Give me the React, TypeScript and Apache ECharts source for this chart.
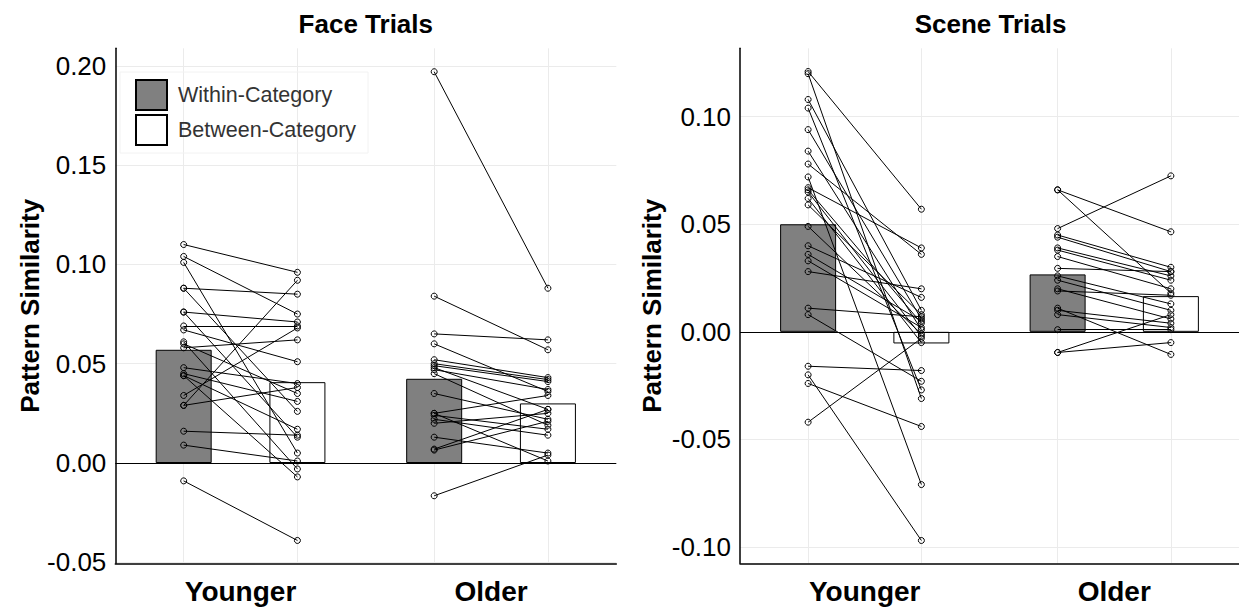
import React, { useEffect, useRef } from 'react';
import * as echarts from 'echarts';

const groups = ['Younger', 'Older'];
const conditions = ['Within-Category', 'Between-Category'];
const panelTitles = ['Face Trials', 'Scene Trials'];
const yAxisTitle = 'Pattern Similarity';
const faceTicks = [-0.05, 0, 0.05, 0.1, 0.15, 0.2];
const sceneTicks = [-0.1, -0.05, 0, 0.05, 0.1];

// bar heights (group means): [Younger, Older]
const faceBarWithin = [0.057, 0.0424];
const faceBarBetween = [0.0407, 0.03];
const sceneBarWithin = [0.05, 0.0267];
const sceneBarBetween = [-0.0054, 0.0166];

// individual participants (within -> between pairs)
const faceYoungWithin = [0.110, 0.104, 0.101, 0.088, 0.088, 0.076, 0.076, 0.069, 0.067, 0.061, 0.060, 0.058, 0.048, 0.045, 0.044, 0.044, 0.034, 0.029, 0.029, 0.016, 0.009, -0.009];
const faceYoungBetween = [0.096, 0.075, 0.005, 0.085, 0.026, 0.071, 0.013, 0.069, 0.051, -0.003, 0.035, 0.062, 0.040, 0.031, 0.017, -0.007, 0.068, 0.092, 0.038, 0.014, 0.001, -0.039];
const faceOldWithin = [0.197, 0.084, 0.065, 0.060, 0.052, 0.050, 0.049, 0.048, 0.047, 0.045, 0.035, 0.025, 0.024, 0.022, 0.020, 0.013, 0.007, 0.0065, -0.0165, 0.025];
const faceOldBetween = [0.088, 0.057, 0.062, 0.036, 0.043, 0.042, 0.041, 0.027, 0.037, 0.019, 0.022, 0.034, 0.017, 0.014, 0.025, 0.005, 0.027, 0.021, 0.004, 0.001];
const sceneYoungWithin = [0.121, 0.120, 0.108, 0.104, 0.094, 0.084, 0.078, 0.072, 0.067, 0.066, 0.065, 0.062, 0.059, 0.049, 0.040, 0.036, 0.033, 0.028, 0.011, 0.008, -0.016, -0.020, -0.024, -0.042];
const sceneYoungBetween = [0.057, -0.031, 0.010, -0.027, 0.006, 0.001, 0.036, -0.071, 0.039, 0.004, -0.002, -0.005, 0.008, -0.001, 0.016, 0.005, 0.002, 0.020, 0.007, -0.023, -0.018, -0.097, -0.044, -0.003];
const sceneOldWithin = [0.066, 0.066, 0.048, 0.045, 0.044, 0.039, 0.038, 0.035, 0.0295, 0.026, 0.024, 0.020, 0.019, 0.011, 0.010, 0.008, 0.001, -0.0096, -0.0096];
const sceneOldBetween = [0.0465, 0.018, 0.0725, 0.030, 0.028, 0.026, 0.024, 0.020, 0.028, 0.013, 0.010, 0.006, 0.017, -0.0105, 0.004, 0.002, 0.001, -0.005, 0.008];

const FONT = '"Liberation Sans", Arial, Helvetica, sans-serif';
const DODGE = 0.227;

type Panel = {
  barW: number[];
  barB: number[];
  pairs: [number[], number[]][];
  ticks: number[];
  min: number;
  max: number;
  left: number;
  nameGap: number;
};

const panels: Panel[] = [
  {
    barW: faceBarWithin, barB: faceBarBetween,
    pairs: [[faceYoungWithin, faceYoungBetween], [faceOldWithin, faceOldBetween]],
    ticks: faceTicks, min: -0.0505, max: 0.2088, left: 115.3, nameGap: 71,
  },
  {
    barW: sceneBarWithin, barB: sceneBarBetween,
    pairs: [[sceneYoungWithin, sceneYoungBetween], [sceneOldWithin, sceneOldBetween]],
    ticks: sceneTicks, min: -0.1076, max: 0.1318, left: 740, nameGap: 75,
  },
];

function buildOption() {
  const grid: any[] = [];
  const xAxis: any[] = [];
  const yAxis: any[] = [];
  const series: any[] = [];
  const title: any[] = [];
  const gridlineX = [1 - DODGE, 1 + DODGE, 2 - DODGE, 2 + DODGE];

  panels.forEach((p, i) => {
    grid.push({ left: p.left, top: 48.3, width: 501, height: 515, containLabel: false });
    title.push({
      text: panelTitles[i], left: p.left + 250.5, top: 11, textAlign: 'center', padding: 0,
      textStyle: { fontFamily: FONT, fontSize: 26, fontWeight: 'bold', color: '#000' },
    });
    xAxis.push({
      type: 'value', gridIndex: i, min: 0.5, max: 2.5,
      axisLine: { show: true, onZero: false, lineStyle: { color: '#000', width: 1.5 } },
      axisTick: { show: false, customValues: gridlineX },
      axisLabel: { show: false },
      splitLine: { show: true, lineStyle: { color: '#ebebeb', width: 1 } },
    });
    xAxis.push({
      type: 'category', gridIndex: i, data: groups, position: 'bottom',
      axisLine: { show: false, onZero: false },
      axisTick: { show: false },
      splitLine: { show: false },
      axisLabel: { fontFamily: FONT, fontSize: 28, fontWeight: 'bold', color: '#000', margin: 14 },
    });
    yAxis.push({
      type: 'value', gridIndex: i, min: p.min, max: p.max,
      name: yAxisTitle, nameLocation: 'middle', nameRotate: 90, nameGap: p.nameGap,
      nameTextStyle: { fontFamily: FONT, fontSize: 26, fontWeight: 'bold', color: '#000' },
      axisLine: { show: true, onZero: false, lineStyle: { color: '#000', width: 1.5 } },
      axisTick: { show: false, customValues: p.ticks },
      axisLabel: {
        customValues: p.ticks, fontFamily: FONT, fontSize: 26, color: '#000', margin: 9,
        formatter: (v: number) => v.toFixed(2),
      },
      splitLine: { show: true, lineStyle: { color: '#ebebeb', width: 1 } },
    });
    const xi = i * 2;
    series.push({
      name: conditions[0], type: 'bar', xAxisIndex: xi, yAxisIndex: i,
      data: p.barW.map((v, g) => [g + 1 - DODGE, v]), barWidth: 56, barGap: '-100%',
      itemStyle: { color: '#808080', borderColor: '#000', borderWidth: 1 },
      z: 2,
    });
    series.push({
      name: conditions[1], type: 'bar', xAxisIndex: xi, yAxisIndex: i,
      data: p.barB.map((v, g) => [g + 1 + DODGE, v]), barWidth: 56, barGap: '-100%',
      itemStyle: { color: '#ffffff', borderColor: '#000', borderWidth: 1 },
      z: 2,
    });
    const lineData: any[] = [];
    const pts: number[][] = [];
    p.pairs.forEach(([w, b], g) => {
      w.forEach((wv, k) => {
        lineData.push({ coords: [[g + 1 - DODGE, wv], [g + 1 + DODGE, b[k]]] });
        pts.push([g + 1 - DODGE, wv]);
        pts.push([g + 1 + DODGE, b[k]]);
      });
    });
    series.push({
      type: 'lines', coordinateSystem: 'cartesian2d', xAxisIndex: xi, yAxisIndex: i,
      data: lineData, polyline: false, silent: true,
      lineStyle: { color: '#000', width: 1, opacity: 1, curveness: 0 },
      z: 3,
    });
    series.push({
      type: 'scatter', xAxisIndex: xi, yAxisIndex: i, data: pts, symbol: 'circle', symbolSize: 6,
      itemStyle: { color: 'rgba(255,255,255,0)', borderColor: '#000', borderWidth: 1, opacity: 1 },
      silent: true, z: 4,
      markLine: {
        silent: true, symbol: ['none', 'none'], label: { show: false },
        lineStyle: { color: '#000', width: 1, type: 'solid' },
        data: [{ yAxis: 0 }],
      },
    });
  });

  return {
    animation: false,
    backgroundColor: '#ffffff',
    title,
    legend: {
      data: conditions, orient: 'vertical', left: 120, top: 72, padding: [7, 12, 7, 15],
      itemWidth: 31, itemHeight: 30, itemGap: 3, icon: 'rect', selectedMode: false,
      borderColor: '#f2f2f2', borderWidth: 1,
      textStyle: { fontFamily: FONT, fontSize: 21.5, color: '#333', padding: [6, 0, 0, 6] },
    },
    grid, xAxis, yAxis, series,
  };
}

export default function App() {
  const ref = useRef<HTMLDivElement>(null);
  useEffect(() => {
    if (!ref.current) return;
    const chart = echarts.init(ref.current, undefined, { renderer: 'svg' });
    chart.setOption(buildOption() as any);
    return () => chart.dispose();
  }, []);
  return (
    <div
      ref={ref}
      style={{ position: 'fixed', left: 0, top: 0, width: 1239, height: 611, background: '#fff' }}
    />
  );
}
